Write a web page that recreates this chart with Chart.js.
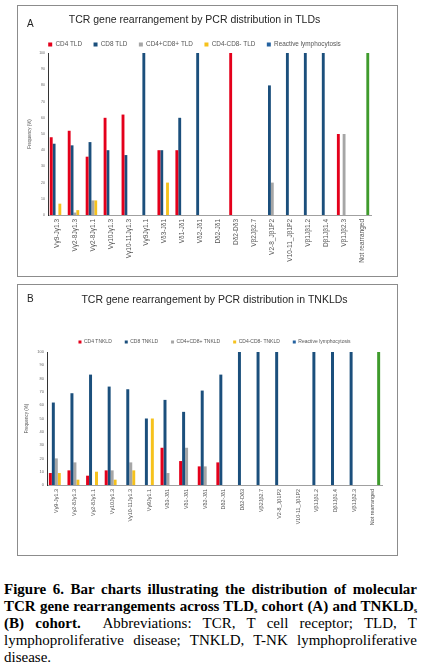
<!DOCTYPE html>
<html>
<head>
<meta charset="utf-8">
<script src="https://cdn.jsdelivr.net/npm/chart.js@4.4.1/dist/chart.umd.min.js"></script>
<style>
  html, body { margin: 0; padding: 0; background: #fff; }
  body { width: 425px; height: 668px; position: relative; overflow: hidden; font-family: "Liberation Sans", Arial, sans-serif; }
  .panel { position: absolute; left: 17px; width: 381px; height: 272px; box-sizing: border-box; border: 1px solid #8c8c8c; background: #fff; }
  .panel canvas { position: absolute; left: 0; top: 0; }
  .letter { position: absolute; left: 9px; font-size: 10px; line-height: 10px; color: #222; }
  .caption { position: absolute; left: 4px; top: 581px; width: 413px; font-family: "Liberation Serif", "Times New Roman", serif; font-size: 15px; line-height: 17px; text-align: justify; color: #000; }
  .caption sub { font-size: 8px; vertical-align: -2px; line-height: 0; }
</style>
</head>
<body>
<div class="panel" style="top:5px"><canvas id="chartA" width="379" height="270"></canvas><div class="letter" style="top:13px">A</div></div>
<div class="panel" style="top:284px"><canvas id="chartB" width="379" height="270"></canvas><div class="letter" style="top:9px">B</div></div>
<div class="caption"><b>Figure 6. Bar charts illustrating the distribution of molecular TCR gene rearrangements across TLD<sub>s</sub> cohort (A) and TNKLD<sub>s</sub> (B) cohort.</b>&nbsp; Abbreviations: TCR, T cell receptor; TLD, T lymphoproliferative disease; TNKLD, T-NK lymphoproliferative disease.</div>
<script>
// rearrangement targets, same order in both panels
const categories = ["Vγ9-Jγ1.3", "Vγ2-8Jγ1.3", "Vγ2-8Jγ1.1", "Vγ10Jγ1.3", "Vγ10-11Jγ1.3", "Vγ9Jγ1.1",
  "Vδ3-Jδ1", "Vδ1-Jδ1", "Vδ2-Jδ1", "Dδ2-Jδ1", "Dδ2-Dδ3", "Vβ2Jβ2.7", "V2-8_Jβ1P2", "V10-11_Jβ1P2",
  "Vβ1Jβ1.2", "Dβ1Jβ1.4", "Vβ1Jβ2.3", "Not rearranged"];
const yTicks = [0, 10, 20, 30, 40, 50, 60, 70, 80, 90, 100];

// panel A - TLDs (%)
const cd4TLD = [48, 52, 36, 60, 62, null, 40, 40, null, null, 100, null, null, null, null, null, 50, null];
const cd8TLD = [44, 43, 45, 40, 37, 100, 40, 60, 100, null, null, null, 80, 100, 100, 100, null, null];
const cd4cd8posTLD = [null, 1.5, 9, null, null, null, null, null, null, null, null, null, 20, null, null, null, 50, null];
const cd4cd8negTLD = [7, 3, 9, null, null, null, 20, null, null, null, null, null, null, null, null, null, null, null];
const reactiveA = [null, null, null, null, null, null, null, null, null, null, null, null, null, null, null, null, null, 100];

// panel B - TNKLDs (%)
const cd4TNKLD = [9, 11, 7, 11, null, null, 28, 18, 14, 17, null, null, null, null, null, null, null, null];
const cd8TNKLD = [62, 69, 83, 74, 72, 50, 64, 55, 71, 83, 100, 100, 100, null, 100, 100, 100, null];
const cd4cd8posTNKLD = [20, 17, null, 11, 17, null, 9, 28, 14, null, null, null, null, null, null, null, null, null];
const cd4cd8negTNKLD = [9, 4, 10, 4, 11, 50, null, null, null, null, null, null, null, null, null, null, null, null];
const reactiveB = [null, null, null, null, null, null, null, null, null, null, null, null, null, null, null, null, null, 100];

const FONT = "'Liberation Sans', Arial, sans-serif";
const RED = "#e4001b", NAVY = "#1b4f7c", GRAY = "#a6a6a6", GOLD = "#f6c21c", BLUE = "#2462a0", GREEN = "#3f9b2c";
// the "Not rearranged" bar of the reactive series is drawn green
const reactiveColors = categories.map(c => c === "Not rearranged" ? GREEN : BLUE);

function buildChart(id, p) {
  return new Chart(document.getElementById(id), {
    type: "bar",
    data: {
      labels: categories,
      datasets: [
        { label: p.names[0], data: p.series[0], backgroundColor: RED },
        { label: p.names[1], data: p.series[1], backgroundColor: NAVY },
        { label: p.names[2], data: p.series[2], backgroundColor: GRAY },
        { label: p.names[3], data: p.series[3], backgroundColor: GOLD },
        { label: "Reactive lymphocytosis", data: p.series[4], backgroundColor: reactiveColors },
      ],
    },
    options: {
      responsive: false,
      animation: false,
      layout: { padding: { left: 0, right: p.padRight, top: 0, bottom: 0 } },
      datasets: { bar: { categoryPercentage: 0.8, barPercentage: 1, borderWidth: 0 } },
      plugins: {
        title: {
          display: true,
          fullSize: p.fullSize,
          text: p.title,
          color: "#262626",
          font: { family: FONT, size: 10.5, weight: "normal" },
          padding: { top: p.titleTop, bottom: p.titleBottom },
        },
        legend: {
          position: "top",
          fullSize: p.fullSize,
          maxHeight: p.legendHeight,
          labels: {
            color: "#555",
            font: { family: FONT, size: p.legendFont },
            boxWidth: p.legendBox,
            boxHeight: p.legendBox,
            padding: p.legendPad,
          },
        },
        tooltip: { enabled: false },
      },
      scales: {
        x: {
          grid: { display: false, drawTicks: false },
          border: { color: "#a0a0a0", width: 1 },
          ticks: { autoSkip: false, maxRotation: 90, minRotation: 90, padding: 4, color: "#555", font: { family: FONT, size: p.xFont } },
          afterFit: s => { s.height = p.xHeight; },
        },
        y: {
          min: 0,
          max: 100,
          grid: { display: false, drawTicks: false },
          border: { color: "#333", width: 1 },
          afterBuildTicks: s => { s.ticks = yTicks.map(v => ({ value: v })); },
          ticks: { padding: 3, color: "#666", font: { family: FONT, size: p.yFont } },
          title: { display: true, text: "Frequency (%)", color: "#555", font: { family: FONT, size: 4.5 }, padding: { top: p.yTitlePad, bottom: 0 } },
          afterFit: s => { s.width = p.yWidth; },
        },
      },
    },
  });
}

buildChart("chartA", {
  title: "TCR gene rearrangement by PCR distribution in TLDs",
  names: ["CD4 TLD", "CD8 TLD", "CD4+CD8+ TLD", "CD4-CD8- TLD"],
  series: [cd4TLD, cd8TLD, cd4cd8posTLD, cd4cd8negTLD, reactiveA],
  fullSize: true, padRight: 26, titleTop: 8.2, titleBottom: 3,
  legendHeight: 23.2, legendFont: 6.4, legendBox: 4, legendPad: 11.5,
  xFont: 6.5, xHeight: 61, yFont: 3.5, yWidth: 30, yTitlePad: 8.8,
});

// title and legend of panel B sit over the plot area only
buildChart("chartB", {
  title: "TCR gene rearrangement by PCR distribution in TNKLDs",
  names: ["CD4 TNKLD", "CD8 TNKLD", "CD4+CD8+ TNKLD", "CD4-CD8- TNKLD"],
  series: [cd4TNKLD, cd8TNKLD, cd4cd8posTNKLD, cd4cd8negTNKLD, reactiveB],
  fullSize: false, padRight: 15, titleTop: 8.7, titleBottom: 20.2,
  legendHeight: 25.5, legendFont: 5, legendBox: 3, legendPad: 13,
  xFont: 5.4, xHeight: 70, yFont: 4, yWidth: 29, yTitlePad: 6.3,
});
</script>
</body>
</html>
